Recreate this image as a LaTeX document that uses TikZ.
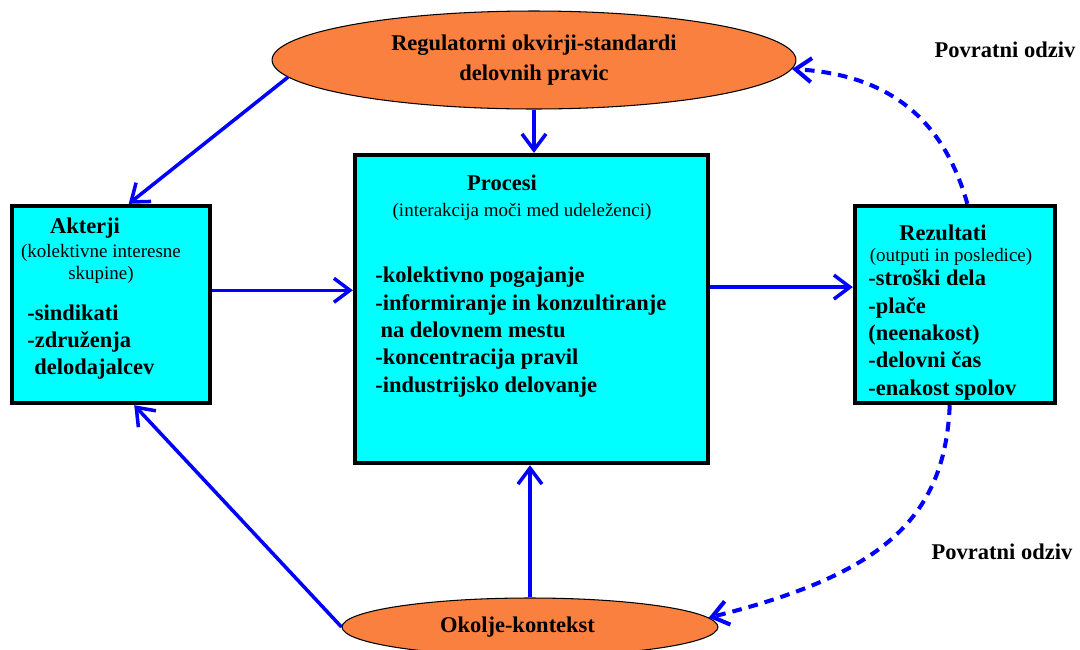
\documentclass[tikz,border=0pt]{standalone}
\usepackage{fontspec}
\setmainfont{Liberation Serif}
\usepackage{tikz}
\usepackage{xcolor}
\usetikzlibrary{shapes.geometric,arrows.meta}
\definecolor{boxcyan}{RGB}{0,255,255}
\definecolor{ovalorange}{RGB}{250,128,64}
\definecolor{arrowblue}{RGB}{0,0,255}
\tikzset{
  box/.style={draw=black, line width=2.5pt, fill=boxcyan, inner sep=0pt},
  oval/.style={ellipse, draw=black, line width=0.6pt, fill=ovalorange, inner sep=0pt,
    font=\bfseries\fontsize{12.8}{17}\selectfont, align=center},
  head/.style={font=\bfseries\fontsize{12.8}{15.5}\selectfont, align=center},
  sub/.style={font=\fontsize{10.8}{12.5}\selectfont, align=center},
  items/.style={font=\bfseries\fontsize{12.8}{15.6}\selectfont, align=left, anchor=west, inner sep=0pt},
  link/.style={draw=arrowblue, line width=2pt, -{Straight Barb[length=3.2mm,width=4.8mm]}},
  feedback/.style={link, line width=2.3pt, dash pattern=on 5.5pt off 4pt}
}

\begin{document}
\begin{tikzpicture}[x=0.02cm,y=-0.02cm]
  \useasboundingbox (0,0) rectangle (1080,650);
  % ovale
  \node[oval, minimum width=10.48cm, minimum height=1.96cm] (reg) at (534,60) {Regulatorni okvirji-standardi\\delovnih pravic};
  \node[oval, minimum width=7.52cm, minimum height=1.16cm] (oko) at (530,627) {\hspace*{-0.5cm}Okolje-kontekst};
  % skatle
  \node[box, minimum width=3.96cm, minimum height=3.94cm] (akt) at (111,304.5) {};
  \node[box, minimum width=7.06cm, minimum height=6.16cm] (pro) at (531.5,309) {};
  \node[box, minimum width=4cm, minimum height=3.94cm] (rez) at (955,304.5) {};
  % akterji
  \node[head] (akttitle) at (85,228) {Akterji};
  \node[sub] (aktsub) at (101,264) {(kolektivne interesne\\skupine)};
  \node[items] (aktitems) at (27,342) {-sindikati\\-združenja\\\hspace*{4pt}delodajalcev};
  % procesi
  \node[head] (protitle) at (502,183) {Procesi};
  \node[sub] (prosub) at (522,212) {(interakcija moči med udeleženci)};
  \node[items] (proitems) at (375,332) {-kolektivno pogajanje\\-informiranje in konzultiranje\\\hspace*{3pt}na delovnem mestu\\-koncentracija pravil\\-industrijsko delovanje};
  % rezultati
  \node[head] (reztitle) at (943,233) {Rezultati};
  \node[sub] (rezsub) at (951,257) {(outputi in posledice)};
  \node[items] (rezitems) at (868,335) {-stroški dela\\-plače\\(neenakost)\\-delovni čas\\-enakost spolov};
  % povratni odziv
  \node[head] (fbtop) at (1005,50) {Povratni odziv};
  \node[head] (fbbot) at (1002,552) {Povratni odziv};
  % puscice
  \draw[link] (reg.184) -- (akt.80);
  \draw[link] (reg.south) -- (reg.south |- pro.north);
  \draw[link] (akt.8) -- (akt.8 -| pro.west);
  \draw[link] (pro.7) -- (pro.7 -| rez.west);
  \draw[link] (oko.north) -- (oko.north |- pro.south);
  \draw[link] (oko.west) -- (akt.-77);
  \draw[feedback] (rez.83) .. controls (945,125) and (895,75) .. (reg.-2);
  \draw[feedback] (rez.-93) .. controls (945,520) and (880,575) .. (oko.3);
\end{tikzpicture}
\end{document}
